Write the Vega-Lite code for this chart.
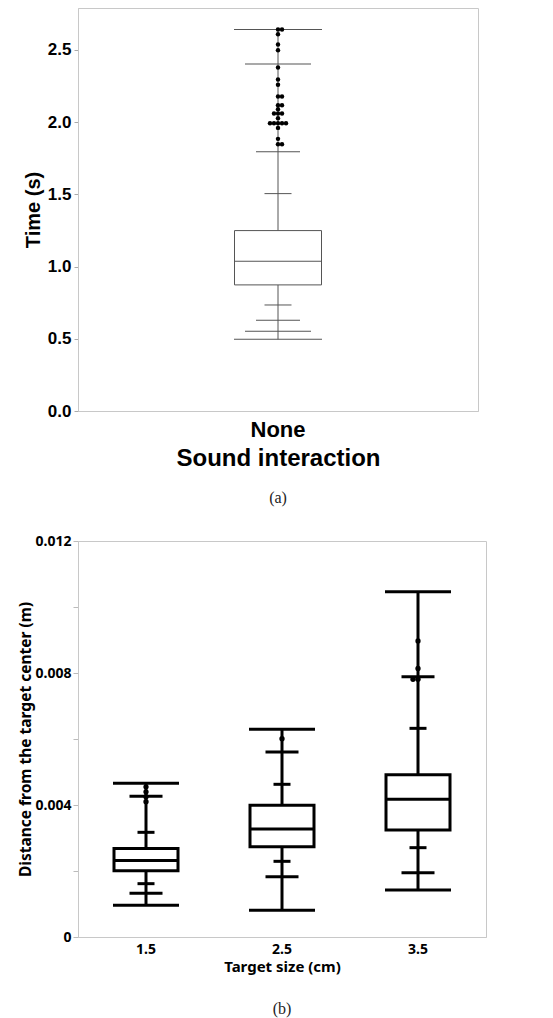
{
  "$schema": "https://vega.github.io/schema/vega-lite/v6.json",
  "background": "white",
  "padding": {"left": 17, "top": 7, "right": 0, "bottom": 0},
  "config": {"view": {"stroke": "#c8c8c8", "strokeWidth": 1}},
  "datasets": {
    "a_box": [{"interaction": "None", "min": 0.496, "q1": 0.873, "median": 1.037, "q3": 1.249, "max": 2.641}],
    "a_q": [
      {"interaction": "None", "level": "100%", "value": 2.641},
      {"interaction": "None", "level": "99.5%", "value": 2.403},
      {"interaction": "None", "level": "97.5%", "value": 1.794},
      {"interaction": "None", "level": "90%", "value": 1.505},
      {"interaction": "None", "level": "10%", "value": 0.734},
      {"interaction": "None", "level": "2.5%", "value": 0.628},
      {"interaction": "None", "level": "0.5%", "value": 0.552},
      {"interaction": "None", "level": "0%", "value": 0.496}
    ],
    "a_out": [
      {"interaction": "None", "value": 2.641}, {"interaction": "None", "value": 2.641},
      {"interaction": "None", "value": 2.608}, {"interaction": "None", "value": 2.537},
      {"interaction": "None", "value": 2.498}, {"interaction": "None", "value": 2.378},
      {"interaction": "None", "value": 2.295}, {"interaction": "None", "value": 2.258},
      {"interaction": "None", "value": 2.177}, {"interaction": "None", "value": 2.177},
      {"interaction": "None", "value": 2.117}, {"interaction": "None", "value": 2.117},
      {"interaction": "None", "value": 2.089},
      {"interaction": "None", "value": 2.059}, {"interaction": "None", "value": 2.059}, {"interaction": "None", "value": 2.059},
      {"interaction": "None", "value": 2.027},
      {"interaction": "None", "value": 1.992}, {"interaction": "None", "value": 1.992}, {"interaction": "None", "value": 1.992}, {"interaction": "None", "value": 1.992}, {"interaction": "None", "value": 1.992},
      {"interaction": "None", "value": 1.960}, {"interaction": "None", "value": 1.884},
      {"interaction": "None", "value": 1.847}, {"interaction": "None", "value": 1.847}
    ],
    "b_box": [
      {"size_cm": "1.5", "min": 0.00096, "q1": 0.00201, "median": 0.00232, "q3": 0.00268, "max": 0.004657},
      {"size_cm": "2.5", "min": 0.000808, "q1": 0.002737, "median": 0.003273, "q3": 0.00399, "max": 0.006294},
      {"size_cm": "3.5", "min": 0.001424, "q1": 0.003242, "median": 0.004172, "q3": 0.004919, "max": 0.010465}
    ],
    "b_q": [
      {"size_cm": "1.5", "level": "100%", "value": 0.004657},
      {"size_cm": "1.5", "level": "97.5%", "value": 0.004263},
      {"size_cm": "1.5", "level": "90%", "value": 0.003172},
      {"size_cm": "1.5", "level": "10%", "value": 0.001616},
      {"size_cm": "1.5", "level": "2.5%", "value": 0.001323},
      {"size_cm": "1.5", "level": "0%", "value": 0.00096},
      {"size_cm": "2.5", "level": "100%", "value": 0.006294},
      {"size_cm": "2.5", "level": "97.5%", "value": 0.005606},
      {"size_cm": "2.5", "level": "90%", "value": 0.004627},
      {"size_cm": "2.5", "level": "10%", "value": 0.002293},
      {"size_cm": "2.5", "level": "2.5%", "value": 0.001828},
      {"size_cm": "2.5", "level": "0%", "value": 0.000808},
      {"size_cm": "3.5", "level": "100%", "value": 0.010465},
      {"size_cm": "3.5", "level": "97.5%", "value": 0.007889},
      {"size_cm": "3.5", "level": "90%", "value": 0.006323},
      {"size_cm": "3.5", "level": "10%", "value": 0.002707},
      {"size_cm": "3.5", "level": "2.5%", "value": 0.001949},
      {"size_cm": "3.5", "level": "0%", "value": 0.001424}
    ],
    "b_out": [
      {"size_cm": "1.5", "value": 0.00455}, {"size_cm": "1.5", "value": 0.0044},
      {"size_cm": "1.5", "value": 0.00425}, {"size_cm": "1.5", "value": 0.0041},
      {"size_cm": "2.5", "value": 0.00601},
      {"size_cm": "3.5", "value": 0.00897}, {"size_cm": "3.5", "value": 0.00814},
      {"size_cm": "3.5", "value": 0.00781}, {"size_cm": "3.5", "value": 0.00781}
    ]
  },
  "resolve": {"scale": {"size": "independent", "xOffset": "independent"}},
  "align": "none",
  "spacing": 26,
  "vconcat": [
    {
      "width": 400,
      "height": 403,
      "title": {"text": "(a)", "orient": "bottom", "anchor": "middle", "font": "Liberation Serif", "fontSize": 16, "fontWeight": "normal", "color": "#222222", "offset": 20},
      "encoding": {
        "x": {
          "field": "interaction", "type": "nominal",
          "scale": {"paddingInner": 0, "paddingOuter": 0},
          "axis": {
            "title": "Sound interaction", "titleFont": "Liberation Sans", "titleFontSize": 24, "titleFontWeight": "bold", "titleColor": "#000000", "titlePadding": 6,
            "labelFont": "Liberation Sans", "labelFontSize": 22, "labelFontWeight": "bold", "labelColor": "#000000", "labelAngle": 0, "labelPadding": 8,
            "ticks": false, "domainColor": "#c8c8c8"
          }
        }
      },
      "layer": [
        {
          "data": {"name": "a_box"},
          "mark": {"type": "rule", "color": "#555555", "strokeWidth": 1},
          "encoding": {
            "y": {
              "field": "min", "type": "quantitative",
              "scale": {"domain": [0, 2.79], "nice": false},
              "axis": {
                "title": "Time (s)", "titleFont": "Liberation Sans", "titleFontSize": 20, "titleFontWeight": "bold", "titleColor": "#000000", "titlePadding": 4,
                "labelFont": "Liberation Sans", "labelFontSize": 17, "labelFontWeight": "bold", "labelColor": "#000000", "labelPadding": 3,
                "values": [0, 0.25, 0.5, 0.75, 1, 1.25, 1.5, 1.75, 2, 2.25, 2.5, 2.75],
                "labelExpr": "round(datum.value * 100) % 50 == 0 ? format(datum.value, '.1f') : ''",
                "tickColor": "#aaaaaa", "tickSize": 4, "domainColor": "#c8c8c8", "grid": false
              }
            },
            "y2": {"field": "max"}
          }
        },
        {
          "data": {"name": "a_box"},
          "mark": {"type": "bar", "size": 87, "fill": "white", "stroke": "#555555", "strokeWidth": 1},
          "encoding": {"y": {"field": "q1", "type": "quantitative"}, "y2": {"field": "q3"}}
        },
        {
          "data": {"name": "a_box"},
          "mark": {"type": "tick", "size": 88, "thickness": 1, "color": "#555555", "opacity": 1},
          "encoding": {"y": {"field": "median", "type": "quantitative"}}
        },
        {
          "data": {"name": "a_q"},
          "mark": {"type": "tick", "thickness": 1, "color": "#555555", "opacity": 1},
          "encoding": {
            "y": {"field": "value", "type": "quantitative"},
            "size": {
              "field": "level", "type": "ordinal", "legend": null,
              "scale": {"type": "ordinal", "domain": ["100%", "99.5%", "97.5%", "90%", "10%", "2.5%", "0.5%", "0%"], "range": [88, 66, 44, 27, 27, 44, 66, 88]}
            }
          }
        },
        {
          "data": {"name": "a_out"},
          "transform": [{"window": [{"op": "row_number", "as": "slot"}], "groupby": ["value"]}],
          "mark": {"type": "circle", "size": 20, "color": "#000000", "opacity": 1},
          "encoding": {
            "y": {"field": "value", "type": "quantitative"},
            "xOffset": {"field": "slot", "type": "ordinal", "scale": {"type": "point", "domain": [5, 3, 1, 2, 4], "range": [192, 208], "padding": 0}}
          }
        }
      ]
    },
    {
      "width": 408,
      "height": 396,
      "title": {"text": "(b)", "orient": "bottom", "anchor": "middle", "font": "Liberation Serif", "fontSize": 16, "fontWeight": "normal", "color": "#222222", "offset": 27},
      "encoding": {
        "x": {
          "field": "size_cm", "type": "nominal",
          "scale": {"paddingInner": 0, "paddingOuter": 0},
          "axis": {
            "title": "Target size (cm)", "titleFont": "Noto Sans", "titleFontSize": 15, "titleFontWeight": "bold", "titleColor": "#000000", "titlePadding": 3,
            "labelFont": "Noto Sans", "labelFontSize": 14, "labelFontWeight": "bold", "labelColor": "#000000", "labelAngle": 0, "labelPadding": 5,
            "ticks": false, "domainColor": "#c8c8c8"
          }
        }
      },
      "layer": [
        {
          "data": {"name": "b_box"},
          "mark": {"type": "rule", "color": "#000000", "strokeWidth": 3},
          "encoding": {
            "y": {
              "field": "min", "type": "quantitative",
              "scale": {"domain": [0, 0.012], "nice": false},
              "axis": {
                "title": "Distance from the target center (m)", "titleFont": "Noto Sans", "titleFontSize": 15.5, "titleFontWeight": "bold", "titleColor": "#000000", "titlePadding": 2,
                "labelFont": "Noto Sans", "labelFontSize": 14, "labelFontWeight": "bold", "labelColor": "#000000", "labelPadding": 2,
                "values": [0, 0.002, 0.004, 0.006, 0.008, 0.01, 0.012],
                "labelExpr": "datum.value == 0 ? '0' : (round(datum.value * 1000) % 4 == 0 ? format(datum.value, '.3f') : '')",
                "tickColor": "#bbbbbb", "tickSize": 5, "domainColor": "#c8c8c8", "grid": false
              }
            },
            "y2": {"field": "max"}
          }
        },
        {
          "data": {"name": "b_box"},
          "mark": {"type": "bar", "size": 64, "fill": "white", "stroke": "#000000", "strokeWidth": 3},
          "encoding": {"y": {"field": "q1", "type": "quantitative"}, "y2": {"field": "q3"}}
        },
        {
          "data": {"name": "b_box"},
          "mark": {"type": "tick", "size": 64, "thickness": 3, "color": "#000000", "opacity": 1},
          "encoding": {"y": {"field": "median", "type": "quantitative"}}
        },
        {
          "data": {"name": "b_q"},
          "mark": {"type": "tick", "thickness": 3, "color": "#000000", "opacity": 1},
          "encoding": {
            "y": {"field": "value", "type": "quantitative"},
            "size": {
              "field": "level", "type": "ordinal", "legend": null,
              "scale": {"type": "ordinal", "domain": ["100%", "97.5%", "90%", "10%", "2.5%", "0%"], "range": [66, 33, 17, 17, 33, 66]}
            }
          }
        },
        {
          "data": {"name": "b_out"},
          "transform": [{"window": [{"op": "row_number", "as": "slot"}], "groupby": ["size_cm", "value"]}],
          "mark": {"type": "circle", "size": 28, "color": "#000000", "opacity": 1},
          "encoding": {
            "y": {"field": "value", "type": "quantitative"},
            "xOffset": {"field": "slot", "type": "ordinal", "scale": {"type": "point", "domain": [2, 1, 3], "range": [63, 73], "padding": 0}}
          }
        }
      ]
    }
  ]
}
